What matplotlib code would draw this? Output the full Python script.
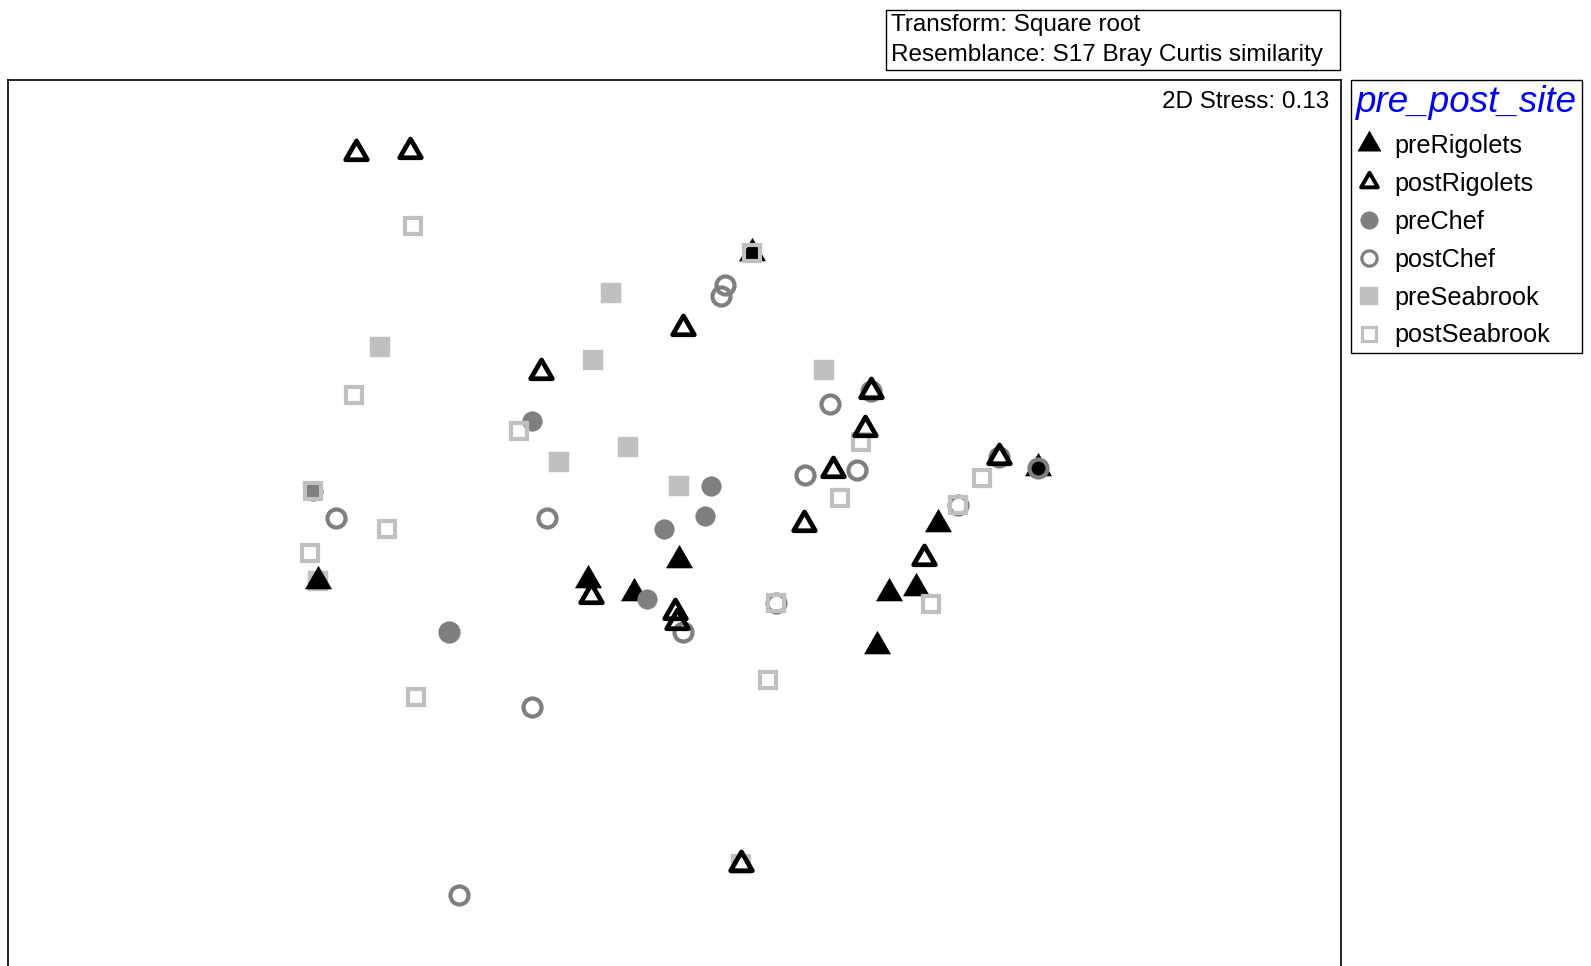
import numpy as np
import matplotlib
matplotlib.use("Agg")
import matplotlib.pyplot as plt
from matplotlib.path import Path
from matplotlib.lines import Line2D
from matplotlib.patches import Rectangle

plt.rcParams['font.family'] = ['Liberation Sans', 'DejaVu Sans']

# nMDS ordination coordinates (MDS1, MDS2) per group
pre_rigolets_x = [-3.51, -0.85, -0.40, 0.04, 2.11, 2.38, 2.60, 2.00, 0.76, 3.58]
pre_rigolets_y = [-0.58, -0.57, -0.70, -0.37, -0.70, -0.65, -0.02, -1.22, 2.65, 0.54]

post_rigolets_x = [-3.14, -2.61, 0.08, -1.32, 1.94, 1.88, 1.56, 1.28, 2.46, 3.20, -0.82, 0.00, 0.02, 0.66]
post_rigolets_y = [3.64, 3.66, 1.92, 1.48, 1.29, 0.92, 0.52, -0.02, -0.35, 0.64, -0.73, -0.88, -0.98, -3.37]

pre_chef_x = [-1.40, 0.36, 0.30, -0.10, -0.27, -3.56, -2.22]
pre_chef_y = [1.00, 0.36, 0.06, -0.07, -0.76, 0.31, -1.08]

post_chef_x = [0.50, 0.46, 1.53, 1.94, 1.80, 1.29, 2.79, 3.20, 3.58, -3.34, -1.26, 0.08, 1.00, -2.22, -1.40, -2.12]
post_chef_y = [2.34, 2.23, 1.17, 1.29, 0.52, 0.47, 0.17, 0.64, 0.54, 0.04, 0.04, -1.08, -0.80, -1.08, -1.82, -3.67]

pre_seabrook_x = [-0.63, -2.90, -0.80, 1.47, -1.14, -0.46, 0.04, -3.51]
pre_seabrook_y = [2.26, 1.73, 1.60, 1.50, 0.59, 0.74, 0.36, -0.58]

post_seabrook_x = [-2.58, -3.16, -1.53, -2.83, -3.59, 1.84, 1.63, 3.03, 2.79, 2.53, 1.00, 0.92, -2.55, 0.76, -3.56, 0.66]
post_seabrook_y = [2.92, 1.25, 0.90, -0.07, -0.30, 0.79, 0.24, 0.44, 0.17, -0.81, -0.80, -1.55, -1.72, 2.65, 0.31, -3.37]

group_labels = ['preRigolets', 'postRigolets', 'preChef', 'postChef', 'preSeabrook', 'postSeabrook']
stress_text = '2D Stress: 0.13'
header_lines = ['Transform: Square root', 'Resemblance: S17 Bray Curtis similarity']

# equilateral triangle marker centred on its centroid
tri = Path([(0, 0.5774), (-0.5, -0.2887), (0.5, -0.2887), (0, 0.5774)],
           [Path.MOVETO, Path.LINETO, Path.LINETO, Path.CLOSEPOLY])

dark_grey = '#7f7f7f'
light_grey = '#c0c0c0'

styles = {
    'preRigolets': dict(marker=tri, ms=21.5, mfc='black', mec='black', mew=0.5),
    'postRigolets': dict(marker=tri, ms=18.0, mfc='none', mec='black', mew=3.4),
    'preChef': dict(marker='o', ms=14.0, mfc=dark_grey, mec=dark_grey, mew=0.5),
    'postChef': dict(marker='o', ms=13.0, mfc='none', mec=dark_grey, mew=3.0),
    'preSeabrook': dict(marker='s', ms=14.2, mfc=light_grey, mec=light_grey, mew=0.3),
    'postSeabrook': dict(marker='s', ms=11.4, mfc='none', mec=light_grey, mew=3.0),
}
legend_styles = {
    'preRigolets': dict(marker=tri, ms=19, mfc='black', mec='black', mew=0.5),
    'postRigolets': dict(marker=tri, ms=14, mfc='none', mec='black', mew=2.8),
    'preChef': dict(marker='o', ms=12.5, mfc=dark_grey, mec=dark_grey, mew=0.5),
    'postChef': dict(marker='o', ms=11, mfc='none', mec=dark_grey, mew=2.3),
    'preSeabrook': dict(marker='s', ms=12.5, mfc=light_grey, mec=light_grey, mew=0.3),
    'postSeabrook': dict(marker='s', ms=10.5, mfc='none', mec=light_grey, mew=2.3),
}

data = {
    'preRigolets': (pre_rigolets_x, pre_rigolets_y),
    'postRigolets': (post_rigolets_x, post_rigolets_y),
    'preChef': (pre_chef_x, pre_chef_y),
    'postChef': (post_chef_x, post_chef_y),
    'preSeabrook': (pre_seabrook_x, pre_seabrook_y),
    'postSeabrook': (post_seabrook_x, post_seabrook_y),
}
draw_order = ['preSeabrook', 'preRigolets', 'preChef', 'postChef', 'postSeabrook', 'postRigolets']

W, H = 1591, 966
fig = plt.figure(figsize=(W / 100, H / 100), dpi=100)

ax_left, ax_right, ax_top = 8, 1341, 80
ylim = (-4.60, 4.36)
xlim = (-6.57, 6.57)
px_per_unit = (ax_right - ax_left) / (xlim[1] - xlim[0])
ax_h = (ylim[1] - ylim[0]) * px_per_unit
ax = fig.add_axes([ax_left / W, 1 - (ax_top + ax_h) / H, (ax_right - ax_left) / W, ax_h / H])
ax.set_xlim(*xlim)
ax.set_ylim(*ylim)
ax.set_xticks([])
ax.set_yticks([])
for sp in ax.spines.values():
    sp.set_linewidth(1.2)
    sp.set_color('black')

for z, name in enumerate(draw_order):
    xs, ys = data[name]
    ax.plot(xs, ys, linestyle='none', zorder=3 + z, **styles[name])

fig.text(1329 / W, 1 - 101.5 / H, stress_text, ha='right', va='center', fontsize=17.5)

# header box above the plot
box_l, box_r, box_t, box_b = 886, 1340, 10, 70
fig.patches.append(Rectangle((box_l / W, 1 - box_b / H), (box_r - box_l) / W, (box_b - box_t) / H,
                             transform=fig.transFigure, fill=False, edgecolor='black', linewidth=1.0))
for i, line in enumerate(header_lines):
    fig.text(891 / W, 1 - (24.5 + 30.5 * i) / H, line, ha='left', va='center', fontsize=17.5)

handles = [Line2D([], [], linestyle='none', **legend_styles[n]) for n in group_labels]
leg = fig.legend(handles, group_labels, loc='upper left',
                 bbox_to_anchor=(1351 / W, 1 - 80 / H), borderaxespad=0,
                 frameon=True, fancybox=False, edgecolor='black', framealpha=1,
                 fontsize=18.2, title='pre_post_site',
                 title_fontproperties={'size': 26.5, 'style': 'italic', 'family': 'Liberation Sans'},
                 alignment='left', borderpad=0.2, labelspacing=0.55,
                 handlelength=1.0, handletextpad=0.52)
leg.get_title().set_color('#0000ee')
leg.get_frame().set_linewidth(1.0)

fig.savefig('out.png', dpi=100)
